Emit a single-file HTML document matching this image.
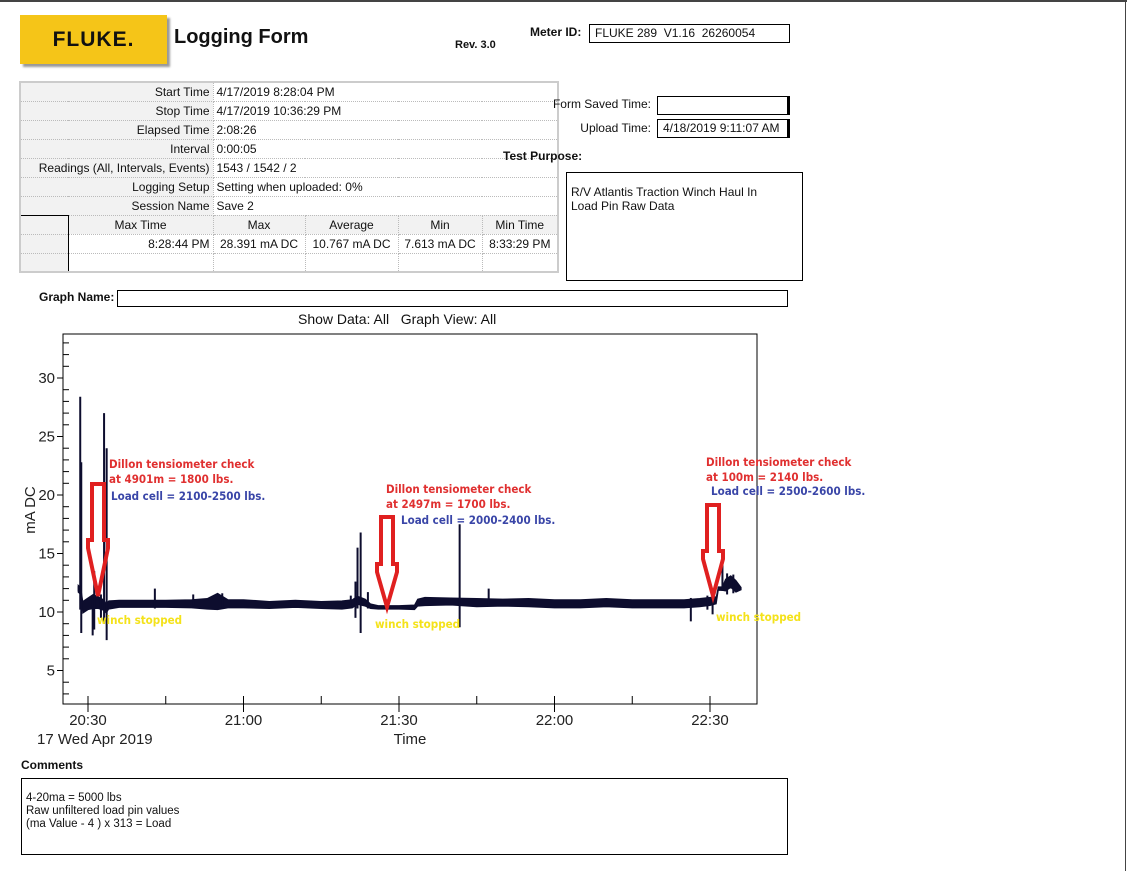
<!DOCTYPE html>
<html><head><meta charset="utf-8">
<style>
body{margin:0;width:1127px;height:871px;background:#fff;position:relative;overflow:hidden;font-family:"Liberation Sans",Arial,sans-serif;color:#111}
.a{position:absolute;white-space:nowrap}
.b{font-weight:bold}
.box{position:absolute;border:1px solid #000;box-sizing:border-box}
table{border-collapse:collapse;position:absolute;left:19px;top:81px;font-size:12px;border:2px solid #ccc}
td{border:1px dotted #bbb;height:19px;padding:0 3px;box-sizing:border-box}
td.l{background:#f2f2f2;text-align:right}
td.h{background:#f2f2f2;text-align:center}
</style></head><body>
<div class="a" style="left:0;top:0;width:1127px;height:2px;background:#444"></div>
<div class="a" style="left:1125px;top:0;width:1px;height:871px;background:#444"></div>
<div class="a" style="left:20px;top:15px;width:147px;height:49px;background:#f5c518;box-shadow:3px 3px 2px #999;font:900 21px 'Liberation Sans',sans-serif;letter-spacing:1px;line-height:49px;text-align:center">FLUKE.</div>
<div class="a b" style="left:174px;top:26px;font-size:20px">Logging Form</div>
<div class="a b" style="left:455px;top:39px;font-size:11px">Rev. 3.0</div>
<div class="a b" style="left:530px;top:25px;font-size:12px">Meter ID:</div>
<div class="box" style="left:589px;top:24px;width:201px;height:19px;font-size:12px;padding:1px 5px">FLUKE 289&nbsp; V1.16&nbsp; 26260054</div>

<table>
<tr><td class="l" colspan="2" style="width:193px">Start Time</td><td colspan="5">4/17/2019 8:28:04 PM</td></tr>
<tr><td class="l" colspan="2">Stop Time</td><td colspan="5">4/17/2019 10:36:29 PM</td></tr>
<tr><td class="l" colspan="2">Elapsed Time</td><td colspan="5">2:08:26</td></tr>
<tr><td class="l" colspan="2">Interval</td><td colspan="5">0:00:05</td></tr>
<tr><td class="l" colspan="2">Readings (All, Intervals, Events)</td><td colspan="5">1543 / 1542 / 2</td></tr>
<tr><td class="l" colspan="2">Logging Setup</td><td colspan="5">Setting when uploaded: 0%</td></tr>
<tr><td class="l" colspan="2">Session Name</td><td colspan="5">Save 2</td></tr>
<tr><td class="h" style="width:48px;border-right:1px solid #000;border-top:1px solid #000"></td><td class="h" style="width:145px">Max Time</td><td class="h" style="width:92px">Max</td><td class="h" style="width:93px">Average</td><td class="h" style="width:84px">Min</td><td class="h" style="width:76px">Min Time</td></tr>
<tr><td class="h" style="border-right:1px solid #000"></td><td style="text-align:right">8:28:44 PM</td><td style="text-align:center">28.391 mA DC</td><td style="text-align:center">10.767 mA DC</td><td style="text-align:center">7.613 mA DC</td><td style="text-align:center">8:33:29 PM</td></tr>
<tr><td class="h" style="border-right:1px solid #000"></td><td></td><td></td><td></td><td></td><td></td></tr>
</table>

<div class="a" style="left:540px;top:97px;width:111px;text-align:right;font-size:12px">Form Saved Time:</div>
<div class="box" style="left:657px;top:96px;width:133px;height:19px;border-right:3px solid #000"></div>
<div class="a" style="left:540px;top:121px;width:111px;text-align:right;font-size:12px">Upload Time:</div>
<div class="box" style="left:657px;top:119px;width:133px;height:19px;border-right:3px solid #000;font-size:12px;padding:1px 5px">4/18/2019 9:11:07 AM</div>
<div class="a b" style="left:503px;top:149px;font-size:12px">Test Purpose:</div>
<div class="box" style="left:566px;top:172px;width:237px;height:109px;font-size:12px;padding:12px 4px;line-height:14px">R/V Atlantis Traction Winch Haul In<br>Load Pin Raw Data</div>

<div class="a b" style="left:39px;top:290px;font-size:12px">Graph Name:</div>
<div class="box" style="left:117px;top:290px;width:671px;height:17px"></div>
<div class="a" style="left:298px;top:311px;font-size:14px">Show Data: All&nbsp;&nbsp; Graph View: All</div>

<svg id="chart" class="a" style="left:0;top:0" width="1127" height="871"></svg>

<div class="a b" style="left:21px;top:758px;font-size:12px">Comments</div>
<div class="box" style="left:21px;top:778px;width:767px;height:77px;font-size:11.5px;padding:13px 4px;line-height:13px">4-20ma = 5000 lbs<br>Raw unfiltered load pin values<br>(ma Value - 4 ) x 313 = Load</div>

<script>
// minutes since 20:00
const bandMinutes=[28.1,28.6,29.0,30,31,32,33,33.5,34,36,40,45,50,53,55,57,60,65,70,75,79,81,82,83.5,84.5,86,88,90,93,93.6,95,100,105,110,115,120,125,130,135,140,145,148,150,151.2,151.6,152.4,153,154,155,156];
const bandValues=[12.0,11.8,10.4,10.7,10.9,10.8,10.6,10.3,10.6,10.7,10.7,10.7,10.7,10.7,10.9,10.7,10.7,10.6,10.7,10.6,10.6,10.7,11.0,10.8,10.5,10.4,10.4,10.4,10.4,10.8,10.9,10.9,10.8,10.8,10.8,10.7,10.7,10.8,10.7,10.7,10.7,10.8,10.9,11.0,12.0,12.0,12.3,12.6,12.2,12.0];
const bandNoise=[0.3,0.3,0.5,0.5,0.6,0.5,0.45,0.4,0.35,0.3,0.3,0.3,0.35,0.45,0.7,0.35,0.35,0.3,0.3,0.3,0.35,0.35,0.35,0.3,0.2,0.15,0.15,0.15,0.2,0.3,0.35,0.3,0.35,0.3,0.35,0.35,0.35,0.35,0.35,0.35,0.35,0.35,0.35,0.3,0.15,0.15,0.5,0.5,0.5,0.1];
const spikeMinutes=[28.2,28.5,28.7,30.9,31.2,32.5,33.1,33.6,42.9,50.3,55.9,80.7,81.6,82.0,82.6,84.0,101.7,107.3,146.3,149.5,150.5,152.4,153.3,154.5];
const spikeHigh=[12.2,28.4,22.8,11.2,13.5,11.5,27.0,24.0,12.0,11.5,11.6,11.4,12.6,15.5,16.8,11.7,17.5,12.0,11.2,11.4,11.2,14.2,13.3,13.2];
const spikeLow=[11.8,10.2,8.2,8.0,8.5,9.5,9.0,7.6,10.3,10.5,10.4,10.3,9.5,10.3,8.2,10.3,8.7,10.5,9.2,10.2,9.8,11.8,11.5,11.6];
const yTicks=[5,10,15,20,25,30];
const xTicks=[30,60,90,120,150];
const xTickLabels=["20:30","21:00","21:30","22:00","22:30"];

const L=63,R=757,T=334,B=704;
const X=m=>88+(m-30)*155.5/30;
const Y=v=>729-v*11.7;
const ns="http://www.w3.org/2000/svg";
const svg=document.getElementById('chart');
function mk(tag,at,parent){const e=document.createElementNS(ns,tag);for(const k in at)e.setAttribute(k,at[k]);(parent||svg).appendChild(e);return e;}

const frame=mk('rect',{x:L,y:T,width:R-L,height:B-T,fill:'none',stroke:'#000','stroke-width':1});



for(let v=3;v<=33;v++){
  const y=Y(v);
  const t=mk('line',{x1:L,x2:L+(v%5==0?0:6),y1:y,y2:y,stroke:'#000'});
  
  
}
yTicks.forEach(v=>{
  const y=Y(v);
  const t=mk('line',{x1:L-6,x2:L,y1:y,y2:y,stroke:'#000'});
  
  
  const tx=mk('text',{x:L-8,y:y+5,'text-anchor':'end','font-size':15,fill:'#222','font-family':'Liberation Sans'});
  tx.textContent=v;
  
  
});
for(let m=45;m<=135;m+=30){
  const t=mk('line',{x1:X(m),x2:X(m),y1:B-8,y2:B,stroke:'#000'});
  
  
}
xTicks.forEach((m,i)=>{
  const t=mk('line',{x1:X(m),x2:X(m),y1:B-8,y2:B+8,stroke:'#000'});
  
  
  const tx=mk('text',{x:X(m),y:725,'text-anchor':'middle','font-size':15,fill:'#222','font-family':'Liberation Sans'});
  tx.textContent=xTickLabels[i];
  
  
});
const d1=mk('text',{x:37,y:744,'font-size':15,fill:'#222','font-family':'Liberation Sans'});d1.textContent='17 Wed Apr 2019';


const xt=mk('text',{x:410,y:744,'text-anchor':'middle','font-size':15,fill:'#222','font-family':'Liberation Sans'});xt.textContent='Time';


const yt=mk('text',{x:35,y:510,'text-anchor':'middle','font-size':15,fill:'#222','font-family':'Liberation Sans',transform:'rotate(-90 35 510)'});yt.textContent='mA DC';



let up=[],dn=[];
bandMinutes.forEach((m,i)=>{up.push(X(m)+','+Y(bandValues[i]+bandNoise[i]));dn.unshift(X(m)+','+Y(bandValues[i]-bandNoise[i]));});
const band=mk('polygon',{points:up.concat(dn).join(' '),fill:'#0d0d2e',stroke:'#0d0d2e','stroke-width':1});


spikeMinutes.forEach((m,i)=>{
  const s=mk('line',{x1:X(m),x2:X(m),y1:Y(spikeHigh[i]),y2:Y(spikeLow[i]),stroke:'#0d0d2e','stroke-width':2});
  
  
});

function arrow(cx,top,shaftEnd,tip,name){
  const p=`${cx-6},${top} ${cx+6},${top} ${cx+6},${shaftEnd} ${cx+10},${shaftEnd} ${cx+10},${shaftEnd+8} ${cx},${tip} ${cx-10},${shaftEnd+8} ${cx-10},${shaftEnd} ${cx-6},${shaftEnd}`;
  const a=mk('polygon',{points:p,fill:'none',stroke:'#e02020','stroke-width':4,'stroke-linejoin':'miter'});
  
  
}
arrow(98,484,540,596,'arrow-check-1');
arrow(387,517,564,607,'arrow-check-2');
arrow(713,505,551,596,'arrow-check-3');

function note(x,y,txt,col,name){
  const t=mk('text',{x:x,y:y,'font-size':11.5,'font-weight':'bold',fill:col,'font-family':'DejaVu Sans Condensed, DejaVu Sans, sans-serif'});
  t.textContent=txt;
  
  
}
note(109,468,'Dillon tensiometer check','#e03030','annotation-check-1');
note(109,483,'at 4901m = 1800 lbs.','#e03030','annotation-check-1-value');
note(111,500,'Load cell = 2100-2500 lbs.','#3a46a8','annotation-loadcell-1');
note(386,493,'Dillon tensiometer check','#e03030','annotation-check-2');
note(386,508,'at 2497m = 1700 lbs.','#e03030','annotation-check-2-value');
note(401,524,'Load cell = 2000-2400 lbs.','#3a46a8','annotation-loadcell-2');
note(706,466,'Dillon tensiometer check','#e03030','annotation-check-3');
note(706,481,'at 100m = 2140 lbs.','#e03030','annotation-check-3-value');
note(711,495,'Load cell = 2500-2600 lbs.','#3a46a8','annotation-loadcell-3');
note(97,624,'winch stopped','#f4e21a','annotation-stopped-1');
note(375,628,'winch stopped','#f4e21a','annotation-stopped-2');
note(716,621,'winch stopped','#f4e21a','annotation-stopped-3');
</script>
</body></html>
